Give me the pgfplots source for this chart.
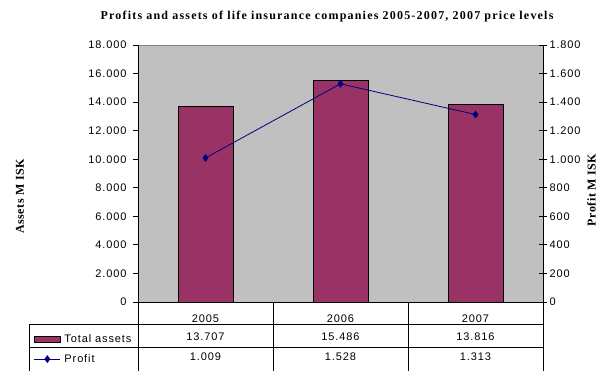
\documentclass[border=0pt]{standalone}
\usepackage{fontspec}
\setmainfont{Liberation Sans}
\newfontfamily\tnr{Liberation Serif}[LetterSpace=4]
\newfontfamily\tnrt{Liberation Serif}[LetterSpace=10]
\newfontfamily\lsfont{Liberation Sans}[LetterSpace=8]
\usepackage{pgfplots}
\pgfplotsset{compat=1.18}
\definecolor{barcol}{HTML}{993366}
\definecolor{linecol}{HTML}{000080}
\definecolor{bggray}{HTML}{C0C0C0}
\definecolor{bordergray}{HTML}{808080}
\newcommand\tl{\lsfont\fontsize{11}{13}\selectfont}
\newcommand\ttl{\tnr\bfseries\fontsize{12}{14}\selectfont}
\newcommand\tttl{\tnrt\bfseries\fontsize{12}{14}\selectfont}
\pgfplotsset{
 barleg/.style={legend image code/.code={\draw[##1] (0pt,-3.15pt) rectangle (26pt,3.15pt);}},
 lineleg/.style={legend image code/.code={\draw[##1, mark repeat=2, mark phase=2] plot coordinates {(0pt,0pt) (13pt,0pt) (26pt,0pt)};}},
}
\begin{document}
\begin{tikzpicture}
\useasboundingbox (0pt,0pt) rectangle (606pt,371pt);
\begin{axis}[
 at={(138pt,69pt)}, anchor=south west, width=405pt, height=257pt, scale only axis,
 xmin=-0.5, xmax=2.5, ymin=0, ymax=18000,
 axis x line*=bottom, axis y line*=left,
 axis line style={line width=0.8pt, -},
 axis background/.style={fill=bggray, draw=bordergray},
 xtick={0,1,2}, xticklabels={2005,2006,2007}, xtick style={draw=none},
 xticklabel style={font=\tl, anchor=center, yshift=-11.3pt},
 ytick={0,2000,...,18000}, scaled y ticks=false,
 ytick style={line width=0.8pt, black}, tick align=outside, major tick length=5pt,
 yticklabel style={font=\tl, xshift=-3pt},
 /pgf/number format/1000 sep={.}, /pgf/number format/assume math mode=true,
]
\addplot[ybar, bar width=55pt, fill=barcol, draw=black, line width=0.8pt] coordinates {(0,13707) (1,15486) (2,13816)};
\end{axis}
\begin{axis}[
 at={(138pt,69pt)}, anchor=south west, width=405pt, height=257pt, scale only axis,
 xmin=-0.5, xmax=2.5, ymin=0, ymax=1800,
 axis x line=none, axis y line*=right,
 axis line style={line width=0.8pt, -},
 ytick={0,200,...,1800}, scaled y ticks=false,
 tick align=center, major tick length=8pt, ytick style={line width=0.8pt, black},
 yticklabel style={font=\tl, xshift=-1pt},
 /pgf/number format/1000 sep={.}, /pgf/number format/assume math mode=true,
 clip=false,
 legend style={at={(axis description cs:-0.2568,-0.119)}, anchor=north west, draw=none, fill=none, inner sep=0pt, outer sep=0pt, row sep=6.3pt, column sep=1.7pt, font=\tl, cells={anchor=west}},
]
\addlegendimage{area legend, fill=barcol, draw=black, line width=0.8pt, barleg}
\addlegendentry{Total assets}
\addplot[linecol, line width=0.8pt, mark=diamond*, mark size=3.3pt, mark options={fill=linecol, draw=linecol}, lineleg] coordinates {(0,1009) (1,1528) (2,1313)};
\addlegendentry{Profit}
\node[font=\tl, anchor=center, yshift=-34.5pt] at (axis cs:0,0) {13.707};
\node[font=\tl, anchor=center, yshift=-34.5pt] at (axis cs:1,0) {15.486};
\node[font=\tl, anchor=center, yshift=-34.5pt] at (axis cs:2,0) {13.816};
\node[font=\tl, anchor=center, yshift=-55pt] at (axis cs:0,0) {1.009};
\node[font=\tl, anchor=center, yshift=-55pt] at (axis cs:1,0) {1.528};
\node[font=\tl, anchor=center, yshift=-55pt] at (axis cs:2,0) {1.313};
\end{axis}
\draw[line width=0.8pt] (29pt,46.3pt) -- (543pt,46.3pt);
\draw[line width=0.8pt] (29pt,23.7pt) -- (543pt,23.7pt);
\draw[line width=0.8pt] (29pt,46.3pt) -- (29pt,0pt);
\foreach \x in {138,273,408,543} \draw[line width=0.8pt] (\x pt,69pt) -- (\x pt,0pt);
\node[font=\ttl, rotate=90] at (20pt,174.5pt) {Assets M ISK};
\node[font=\ttl, rotate=90] at (591.5pt,181pt) {Profit M ISK};
\node[font=\tttl] at (327pt,354.5pt) {Profits and assets of life insurance companies 2005-2007, 2007 price levels};
\end{tikzpicture}
\end{document}
